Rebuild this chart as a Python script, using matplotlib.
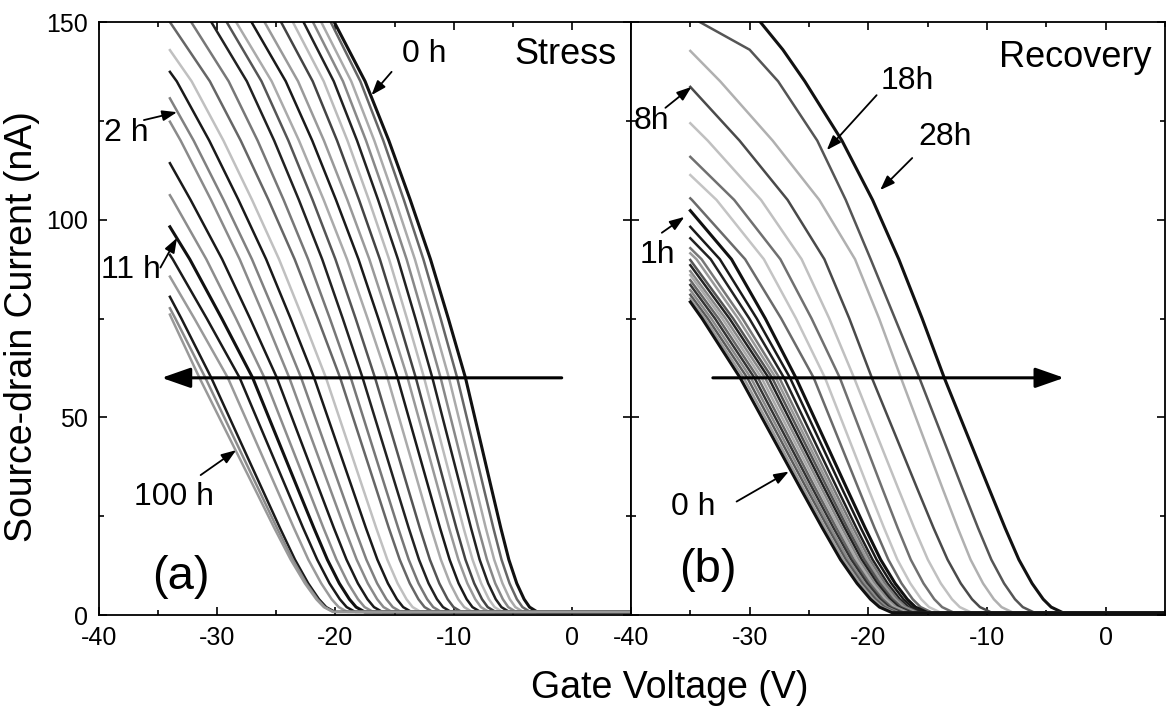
import matplotlib
matplotlib.use("Agg")
import matplotlib.pyplot as plt
import numpy as np
from matplotlib.ticker import MultipleLocator

N = np.nan

# =================== DATA ===================================================
# (a) Stress: gate voltage (V) where each transfer curve crosses these currents (nA)
STRESS_LEVELS = [150, 135, 120, 105, 90, 75, 60, 45, 32, 22, 14, 8, 4, 2, 0.8]
STRESS_FIRST_V = -34.0
# current at the first sweep point for curves that start inside the frame
STRESS_FIRST_I = [None] * 14 + [142.9, 137.4, 130.7, 124.8, 114.3, 106.2,
                                98.2, 91.1, 85.6, 80.5, 77.6, 76.0]
STRESS_V = [
    [-20.1, -17.49, -15.48, -13.67, -11.96, -10.45, -9.0, -7.82, -6.80, -6.01, -5.33, -4.66, -4.04, -3.58, -2.94],
    [-20.4, -17.89, -15.95, -14.21, -12.56, -11.10, -9.7, -8.49, -7.45, -6.64, -5.95, -5.27, -4.65, -4.18, -3.54],
    [-21.2, -18.66, -16.71, -14.95, -13.28, -11.82, -10.4, -9.17, -8.10, -7.28, -6.57, -5.87, -5.25, -4.78, -4.13],
    [-21.9, -19.36, -17.41, -15.65, -13.98, -12.52, -11.1, -9.84, -8.75, -7.91, -7.18, -6.48, -5.84, -5.38, -4.73],
    [-22.7, -20.14, -18.17, -16.39, -14.71, -13.23, -11.8, -10.51, -9.39, -8.53, -7.80, -7.08, -6.44, -5.96, -5.31],
    [-23.6, -20.99, -18.98, -17.17, -15.46, -13.95, -12.5, -11.18, -10.04, -9.16, -8.40, -7.67, -7.02, -6.54, -5.89],
    [-24.6, -21.92, -19.86, -18.0, -16.24, -14.69, -13.2, -11.85, -10.68, -9.77, -9.0, -8.26, -7.60, -7.12, -6.46],
    [-26.0, -23.16, -20.97, -18.99, -17.13, -15.49, -13.9, -12.51, -11.31, -10.39, -9.60, -8.84, -8.17, -7.69, -7.03],
    [-27.1, -24.20, -21.96, -19.95, -18.05, -16.37, -14.75, -13.33, -12.10, -11.15, -10.34, -9.58, -8.90, -8.41, -7.74],
    [-28.4, -25.39, -23.08, -20.99, -19.02, -17.28, -15.6, -14.14, -12.88, -11.91, -11.08, -10.30, -9.61, -9.11, -8.45],
    [-29.2, -26.25, -23.98, -21.93, -20.0, -18.29, -16.65, -15.15, -13.86, -12.86, -12.01, -11.21, -10.51, -10.01, -9.34],
    [-30.5, -27.49, -25.18, -23.09, -21.12, -19.38, -17.7, -16.16, -14.83, -13.80, -12.93, -12.12, -11.41, -10.90, -10.23],
    [-32.2, -29.03, -26.58, -24.38, -22.31, -20.47, -18.7, -17.12, -15.75, -14.69, -13.80, -12.97, -12.24, -11.73, -11.06],
    [-34.0, -30.62, -28.01, -25.66, -23.45, -21.49, -19.6, -17.97, -16.56, -15.48, -14.56, -13.71, -12.98, -12.46, -11.78],
    [N, -32.16, -29.47, -27.05, -24.77, -22.75, -20.8, -19.12, -17.67, -16.55, -15.61, -14.74, -13.99, -13.47, -12.79],
    [N, -33.42, -30.67, -28.20, -25.86, -23.79, -21.8, -20.07, -18.57, -17.42, -16.45, -15.56, -14.80, -14.27, -13.58],
    [N, N, -31.99, -29.46, -27.06, -24.94, -22.9, -21.12, -19.57, -18.38, -17.38, -16.47, -15.69, -15.15, -14.46],
    [N, N, -33.09, -30.52, -28.1, -25.96, -23.9, -22.06, -20.46, -19.23, -18.20, -17.26, -16.47, -15.93, -15.23],
    [N, N, N, -32.25, -29.58, -27.22, -24.95, -23.05, -21.40, -20.13, -19.06, -18.10, -17.29, -16.74, -16.04],
    [N, N, N, -33.76, -30.92, -28.41, -26.0, -24.03, -22.32, -21.01, -19.91, -18.92, -18.09, -17.53, -16.82],
    [N, N, N, N, -32.32, -29.61, -27.0, -24.96, -23.19, -21.82, -20.68, -19.67, -18.82, -18.25, -17.54],
    [N, N, N, N, -33.76, -30.88, -28.1, -25.98, -24.14, -22.73, -21.54, -20.50, -19.63, -19.05, -18.33],
    [N, N, N, N, N, -31.93, -29.1, -26.89, -24.98, -23.51, -22.29, -21.20, -20.32, -19.72, -18.99],
    [N, N, N, N, N, -33.03, -30.5, -28.21, -26.22, -24.69, -23.42, -22.30, -21.39, -20.78, -20.05],
    [N, N, N, N, N, -33.54, -31.0, -28.61, -26.53, -24.94, -23.61, -22.46, -21.52, -20.90, -20.16],
    [N, N, N, N, N, -33.85, -31.5, -29.0, -26.83, -25.17, -23.78, -22.58, -21.62, -20.98, -20.23],
]
STRESS_COLORS = [
    "#111111", "#666666", "#aaaaaa", "#888888", "#222222", "#bbbbbb", "#444444",
    "#999999", "#1a1a1a", "#aaaaaa", "#555555", "#222222", "#777777", "#666666",
    "#c0c0c0", "#1a1a1a", "#808080", "#8a8a8a", "#1a1a1a", "#8c8c8c", "#111111",
    "#1a1a1a", "#999999", "#1a1a1a", "#8a8a8a", "#999999",
]

# (b) Recovery
RECOVERY_LEVELS = [150, 143, 135, 120, 105, 90, 75, 60, 45, 32, 22, 14, 8, 4, 2, 0.6]
RECOVERY_FIRST_V = -35.0
RECOVERY_FIRST_I = [None, None, 142.7, 133.6, 124.4, 115.9, 111.3, 105.4, 102.3,
                    98.2, 95.3, 92.8, 91.5, 89.8, 88.5, 87.0, 86.0, 84.7, 83.5,
                    82.2, 81.0, 80.0, 79.2]
RECOVERY_V = [
    [-29.1, -27.2, -25.35, -22.22, -19.64, -17.43, -15.46, -13.6, -11.58, -9.83, -8.47, -7.31, -6.20, -5.26, -4.59, -3.61],
    [-34.2, -30.0, -27.6, -24.3, -21.9, -19.8, -17.75, -15.7, -13.75, -12.07, -10.75, -9.63, -8.56, -7.64, -6.98, -6.0],
    [N, N, -32.48, -28.06, -24.13, -21.12, -19.09, -17.25, -15.37, -13.74, -12.46, -11.38, -10.33, -9.42, -8.77, -7.80],
    [N, N, N, -30.85, -26.8, -23.7, -21.6, -19.7, -17.65, -15.88, -14.50, -13.32, -12.21, -11.26, -10.59, -9.60],
    [N, N, N, -33.53, -29.04, -25.62, -23.29, -21.2, -19.21, -17.48, -16.13, -14.98, -13.89, -12.95, -12.29, -11.30],
    [N, N, N, N, -31.3, -27.41, -24.78, -22.4, -20.48, -18.82, -17.52, -16.42, -15.35, -14.44, -13.78, -12.80],
    [N, N, N, N, -32.79, -28.8, -26.09, -23.65, -21.69, -20.0, -18.67, -17.55, -16.46, -15.54, -14.88, -13.90],
    [N, N, N, N, -34.86, -30.38, -27.34, -24.6, -22.58, -20.83, -19.47, -18.31, -17.20, -16.26, -15.59, -14.61],
    [N, N, N, N, N, -31.53, -28.68, -26.1, -23.80, -21.81, -20.26, -18.96, -17.74, -16.72, -16.02, -15.0],
    [N, N, N, N, N, -32.51, -29.4, -26.6, -24.25, -22.22, -20.63, -19.30, -18.06, -17.04, -16.32, -15.30],
    [N, N, N, N, N, -33.28, -30.03, -27.1, -24.70, -22.62, -21.0, -19.64, -18.38, -17.34, -16.62, -15.60],
    [N, N, N, N, N, -34.05, -30.6, -27.5, -25.05, -22.93, -21.27, -19.88, -18.60, -17.55, -16.82, -15.79],
    [N, N, N, N, N, -34.48, -30.97, -27.8, -25.33, -23.18, -21.51, -20.11, -18.82, -17.76, -17.03, -16.0],
    [N, N, N, N, N, N, -31.39, -28.1, -25.6, -23.43, -21.75, -20.33, -19.03, -17.97, -17.23, -16.2],
    [N, N, N, N, N, N, -31.7, -28.4, -25.88, -23.69, -21.98, -20.56, -19.25, -18.17, -17.44, -16.4],
    [N, N, N, N, N, N, -32.03, -28.7, -26.15, -23.94, -22.22, -20.78, -19.46, -18.38, -17.64, -16.6],
    [N, N, N, N, N, N, -32.31, -29.0, -26.42, -24.19, -22.45, -21.0, -19.67, -18.58, -17.83, -16.79],
    [N, N, N, N, N, N, -32.62, -29.3, -26.7, -24.45, -22.69, -21.23, -19.89, -18.80, -18.05, -17.0],
    [N, N, N, N, N, N, -32.92, -29.6, -26.97, -24.70, -22.93, -21.44, -20.09, -18.99, -18.24, -17.20],
    [N, N, N, N, N, N, -33.24, -29.9, -27.25, -24.95, -23.17, -21.67, -20.31, -19.21, -18.45, -17.41],
    [N, N, N, N, N, N, -33.53, -30.2, -27.52, -25.2, -23.39, -21.89, -20.51, -19.40, -18.64, -17.59],
    [N, N, N, N, N, N, -33.78, -30.5, -27.80, -25.46, -23.63, -22.11, -20.73, -19.61, -18.85, -17.80],
    [N, N, N, N, N, N, -34.01, -30.8, -28.07, -25.71, -23.87, -22.34, -20.95, -19.82, -19.06, -18.0],
]
RECOVERY_COLORS = [
    "#111111", "#555555", "#b0b0b0", "#4a4a4a", "#c0c0c0", "#707070", "#c4c4c4",
    "#6a6a6a", "#111111", "#1a1a1a", "#222222", "#777777", "#999999", "#555555",
    "#222222", "#888888", "#aaaaaa", "#666666", "#333333", "#8a8a8a", "#5a5a5a",
    "#9a9a9a", "#111111",
]

# =================== ANNOTATIONS (data coordinates) =====================
STRESS_TEXT = [("0 h", -14.4, 142.0), ("2 h", -39.6, 122.0),
               ("11 h", -39.8, 87.3), ("100 h", -37.0, 29.8)]
STRESS_POINTERS = [((-15.25, 137.4), (-16.95, 131.5)), ((-36.2, 125.2), (-33.4, 127.2)),
                   ((-34.8, 87.9), (-33.4, 95.4)), ((-31.4, 35.4), (-28.4, 41.7))]
RECOVERY_TEXT = [("18h", -19.0, 135.0), ("28h", -15.8, 121.0), ("8h", -39.8, 125.0),
                 ("1h", -39.3, 91.0), ("0 h", -36.6, 27.3)]
RECOVERY_POINTERS = [((-19.3, 131.5), (-23.5, 117.6)), ((-16.3, 115.6), (-19.0, 107.5)),
                     ((-37.1, 128.3), (-34.9, 133.6)), ((-37.4, 96.7), (-35.5, 100.7)),
                     ((-31.1, 28.7), (-26.7, 36.3))]


def draw_family(ax, levels, table, first_v, first_i, colors):
    for row, i0, color in zip(table, first_i, colors):
        volts, amps = [], []
        if i0 is not None:
            volts.append(first_v)
            amps.append(i0)
        for v, level in zip(row, levels):
            if not np.isnan(v):
                volts.append(v)
                amps.append(level)
        # off-state tail runs flat out to the panel edge
        volts.append(6.0)
        amps.append(levels[-1])
        lw = 2.2 if color == "#111111" else 1.8
        ax.plot(volts, amps, color=color, lw=lw, solid_joinstyle="round")


def style_axes(ax, show_ylabels):
    ax.set_xlim(-40, 5)
    ax.set_ylim(0, 150)
    ax.xaxis.set_major_locator(MultipleLocator(10))
    ax.xaxis.set_minor_locator(MultipleLocator(5))
    ax.yaxis.set_major_locator(MultipleLocator(50))
    ax.yaxis.set_minor_locator(MultipleLocator(25))
    ax.tick_params(which="both", direction="in", top=True, right=True,
                   width=1.2, labelsize=18, pad=8)
    ax.tick_params(which="major", length=6)
    ax.tick_params(which="minor", length=3.5)
    ax.tick_params(axis="y", labelleft=show_ylabels)
    for spine in ax.spines.values():
        spine.set_linewidth(1.3)


def pointer(ax, tail, tip):
    ax.annotate("", xy=tip, xytext=tail,
                arrowprops=dict(arrowstyle="-|>,head_length=0.55,head_width=0.2",
                                mutation_scale=16, lw=1.3, color="black",
                                shrinkA=0, shrinkB=0))


def big_arrow(ax, tail, tip):
    ax.annotate("", xy=tip, xytext=tail,
                arrowprops=dict(arrowstyle="-|>,head_length=0.8,head_width=0.28",
                                mutation_scale=22, lw=2.2, color="black",
                                shrinkA=0, shrinkB=0))


def main():
    plt.rcParams["font.family"] = ["Liberation Sans", "DejaVu Sans"]
    plt.rcParams["axes.unicode_minus"] = False

    fig = plt.figure(figsize=(11.7, 7.11), dpi=100)
    ax_a = fig.add_axes([0.0846, 0.135, 0.4547, 0.834])
    ax_b = fig.add_axes([0.5393, 0.135, 0.4564, 0.834])

    draw_family(ax_a, STRESS_LEVELS, STRESS_V, STRESS_FIRST_V, STRESS_FIRST_I, STRESS_COLORS)
    draw_family(ax_b, RECOVERY_LEVELS, RECOVERY_V, RECOVERY_FIRST_V, RECOVERY_FIRST_I,
                RECOVERY_COLORS)
    style_axes(ax_a, True)
    style_axes(ax_b, False)

    # panel (a) labels
    for label, x, y in STRESS_TEXT:
        ax_a.text(x, y, label, fontsize=23, ha="left", va="center")
    for tail, tip in STRESS_POINTERS:
        pointer(ax_a, tail, tip)
    ax_a.text(3.8, 141.7, "Stress", fontsize=26, ha="right", va="center")
    ax_a.text(-33.1, 9.6, "(a)", fontsize=34, ha="center", va="center")
    big_arrow(ax_a, (-0.86, 60), (-34.7, 60))

    # panel (b) labels
    for label, x, y in RECOVERY_TEXT:
        ax_b.text(x, y, label, fontsize=23, ha="left", va="center")
    for tail, tip in RECOVERY_POINTERS:
        pointer(ax_b, tail, tip)
    ax_b.text(3.9, 141.0, "Recovery", fontsize=26, ha="right", va="center")
    ax_b.text(-33.5, 11.4, "(b)", fontsize=34, ha="center", va="center")
    big_arrow(ax_b, (-33.1, 60), (-3.5, 60))

    fig.text(670 / 1170, 1 - 688 / 711, "Gate Voltage (V)", fontsize=27,
             ha="center", va="center")
    fig.text(22 / 1170, 1 - 327 / 711, "Source-drain Current (nA)", fontsize=27,
             ha="center", va="center", rotation=90)

    fig.savefig("out.png", dpi=100)
    plt.close(fig)


if __name__ == "__main__":
    main()
